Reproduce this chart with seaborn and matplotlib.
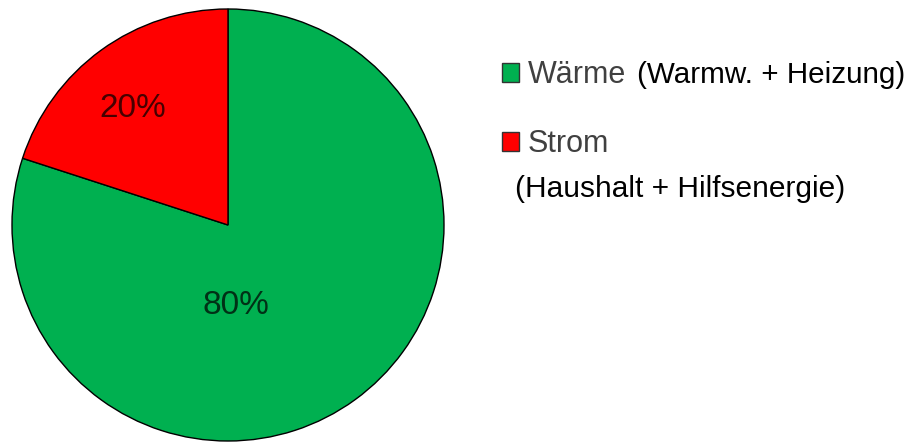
import matplotlib
matplotlib.use("Agg")
import matplotlib.pyplot as plt
import seaborn as sns

# Energy share of a household
categories = ["Wärme", "Strom"]
shares = [80, 20]
details = ["(Warmw. + Heizung)", "(Haushalt + Hilfsenergie)"]
colors = ["#00B050", "#FF0000"]

sns.set_theme(style="white")
plt.rcParams["font.family"] = ["Liberation Sans", "DejaVu Sans"]

W, H = 912, 443
fig = plt.figure(figsize=(W / 100, H / 100), dpi=100)
fig.patch.set_facecolor("white")

ax = fig.add_axes([12 / W, 2 / H, 432 / W, 432 / H])
wedges, _ = ax.pie(
    shares,
    colors=colors,
    startangle=90,
    counterclock=False,
    radius=1.0,
    wedgeprops=dict(edgecolor="black", linewidth=1.0),
)
ax.set_xlim(-1.0, 1.0)
ax.set_ylim(-1.0, 1.0)
ax.set_aspect("equal")
ax.axis("off")

# percentage labels inside the slices
label_pos = [(0.037, -0.375), (-0.44, 0.54)]
for share, (x, y) in zip(shares, label_pos):
    ax.text(x, y, f"{share}%", ha="center", va="center",
            fontsize=24, color="black", alpha=0.72)

# legend: category names with coloured squares
leg = fig.legend(
    wedges, categories,
    loc="upper left",
    bbox_to_anchor=(502 / W, 1 - 60 / H),
    frameon=False,
    fontsize=22,
    handlelength=0.56,
    handleheight=0.56,
    handletextpad=0.28,
    labelspacing=1.28,
    borderpad=0,
    borderaxespad=0,
)
for t in leg.get_texts():
    t.set_color("#404040")
for h in leg.legend_handles:
    h.set_edgecolor("#333333")

# detail text next to / below the category names
fig.text(637 / W, 1 - 83 / H, details[0], fontsize=21.3, color="black", va="baseline")
fig.text(515 / W, 1 - 197 / H, details[1], fontsize=21.5, color="black", va="baseline")

fig.savefig("out.png", dpi=100, facecolor="white")
